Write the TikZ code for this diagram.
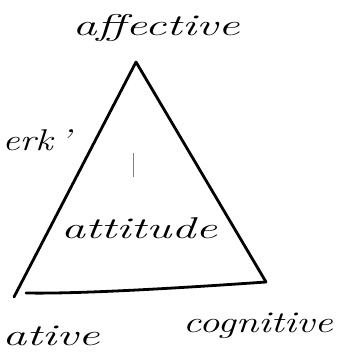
\documentclass[tikz,border=0pt]{standalone}
\begin{document}
\begin{tikzpicture}[x=1pt,y=-1pt,
  hand/.style={font=\fontsize{30}{30}\selectfont\itshape, inner sep=0pt, xscale=1.6},
  edge/.style={line width=2.8pt, line cap=round, line join=round}]
\useasboundingbox (0,0) rectangle (336,352);
\coordinate (apex) at (136,62);
\coordinate (bl) at (14,297);
\coordinate (blb) at (26,293);
\coordinate (br) at (266,282);
\coordinate (t1) at (133,153);
\coordinate (t2) at (133,177);
\draw[edge] (apex) -- (bl);
\draw[edge] (apex) -- (br);
\draw[edge] (br) .. controls (180,288) and (80,294) .. (blb);
\draw[line width=1pt, gray] (t1) -- (t2);
\node[hand] (aff) at (156,28) {affective};
\node[hand, anchor=west, xscale=0.8] (work) at (2,140) {erk\,'};
\node[hand] (att) at (139,228) {attitude};
\node[hand, anchor=east, xscale=0.85] (cog) at (333,326) {cognitive};
\node[hand, anchor=west] (con) at (2,336) {ative};
\end{tikzpicture}
\end{document}
